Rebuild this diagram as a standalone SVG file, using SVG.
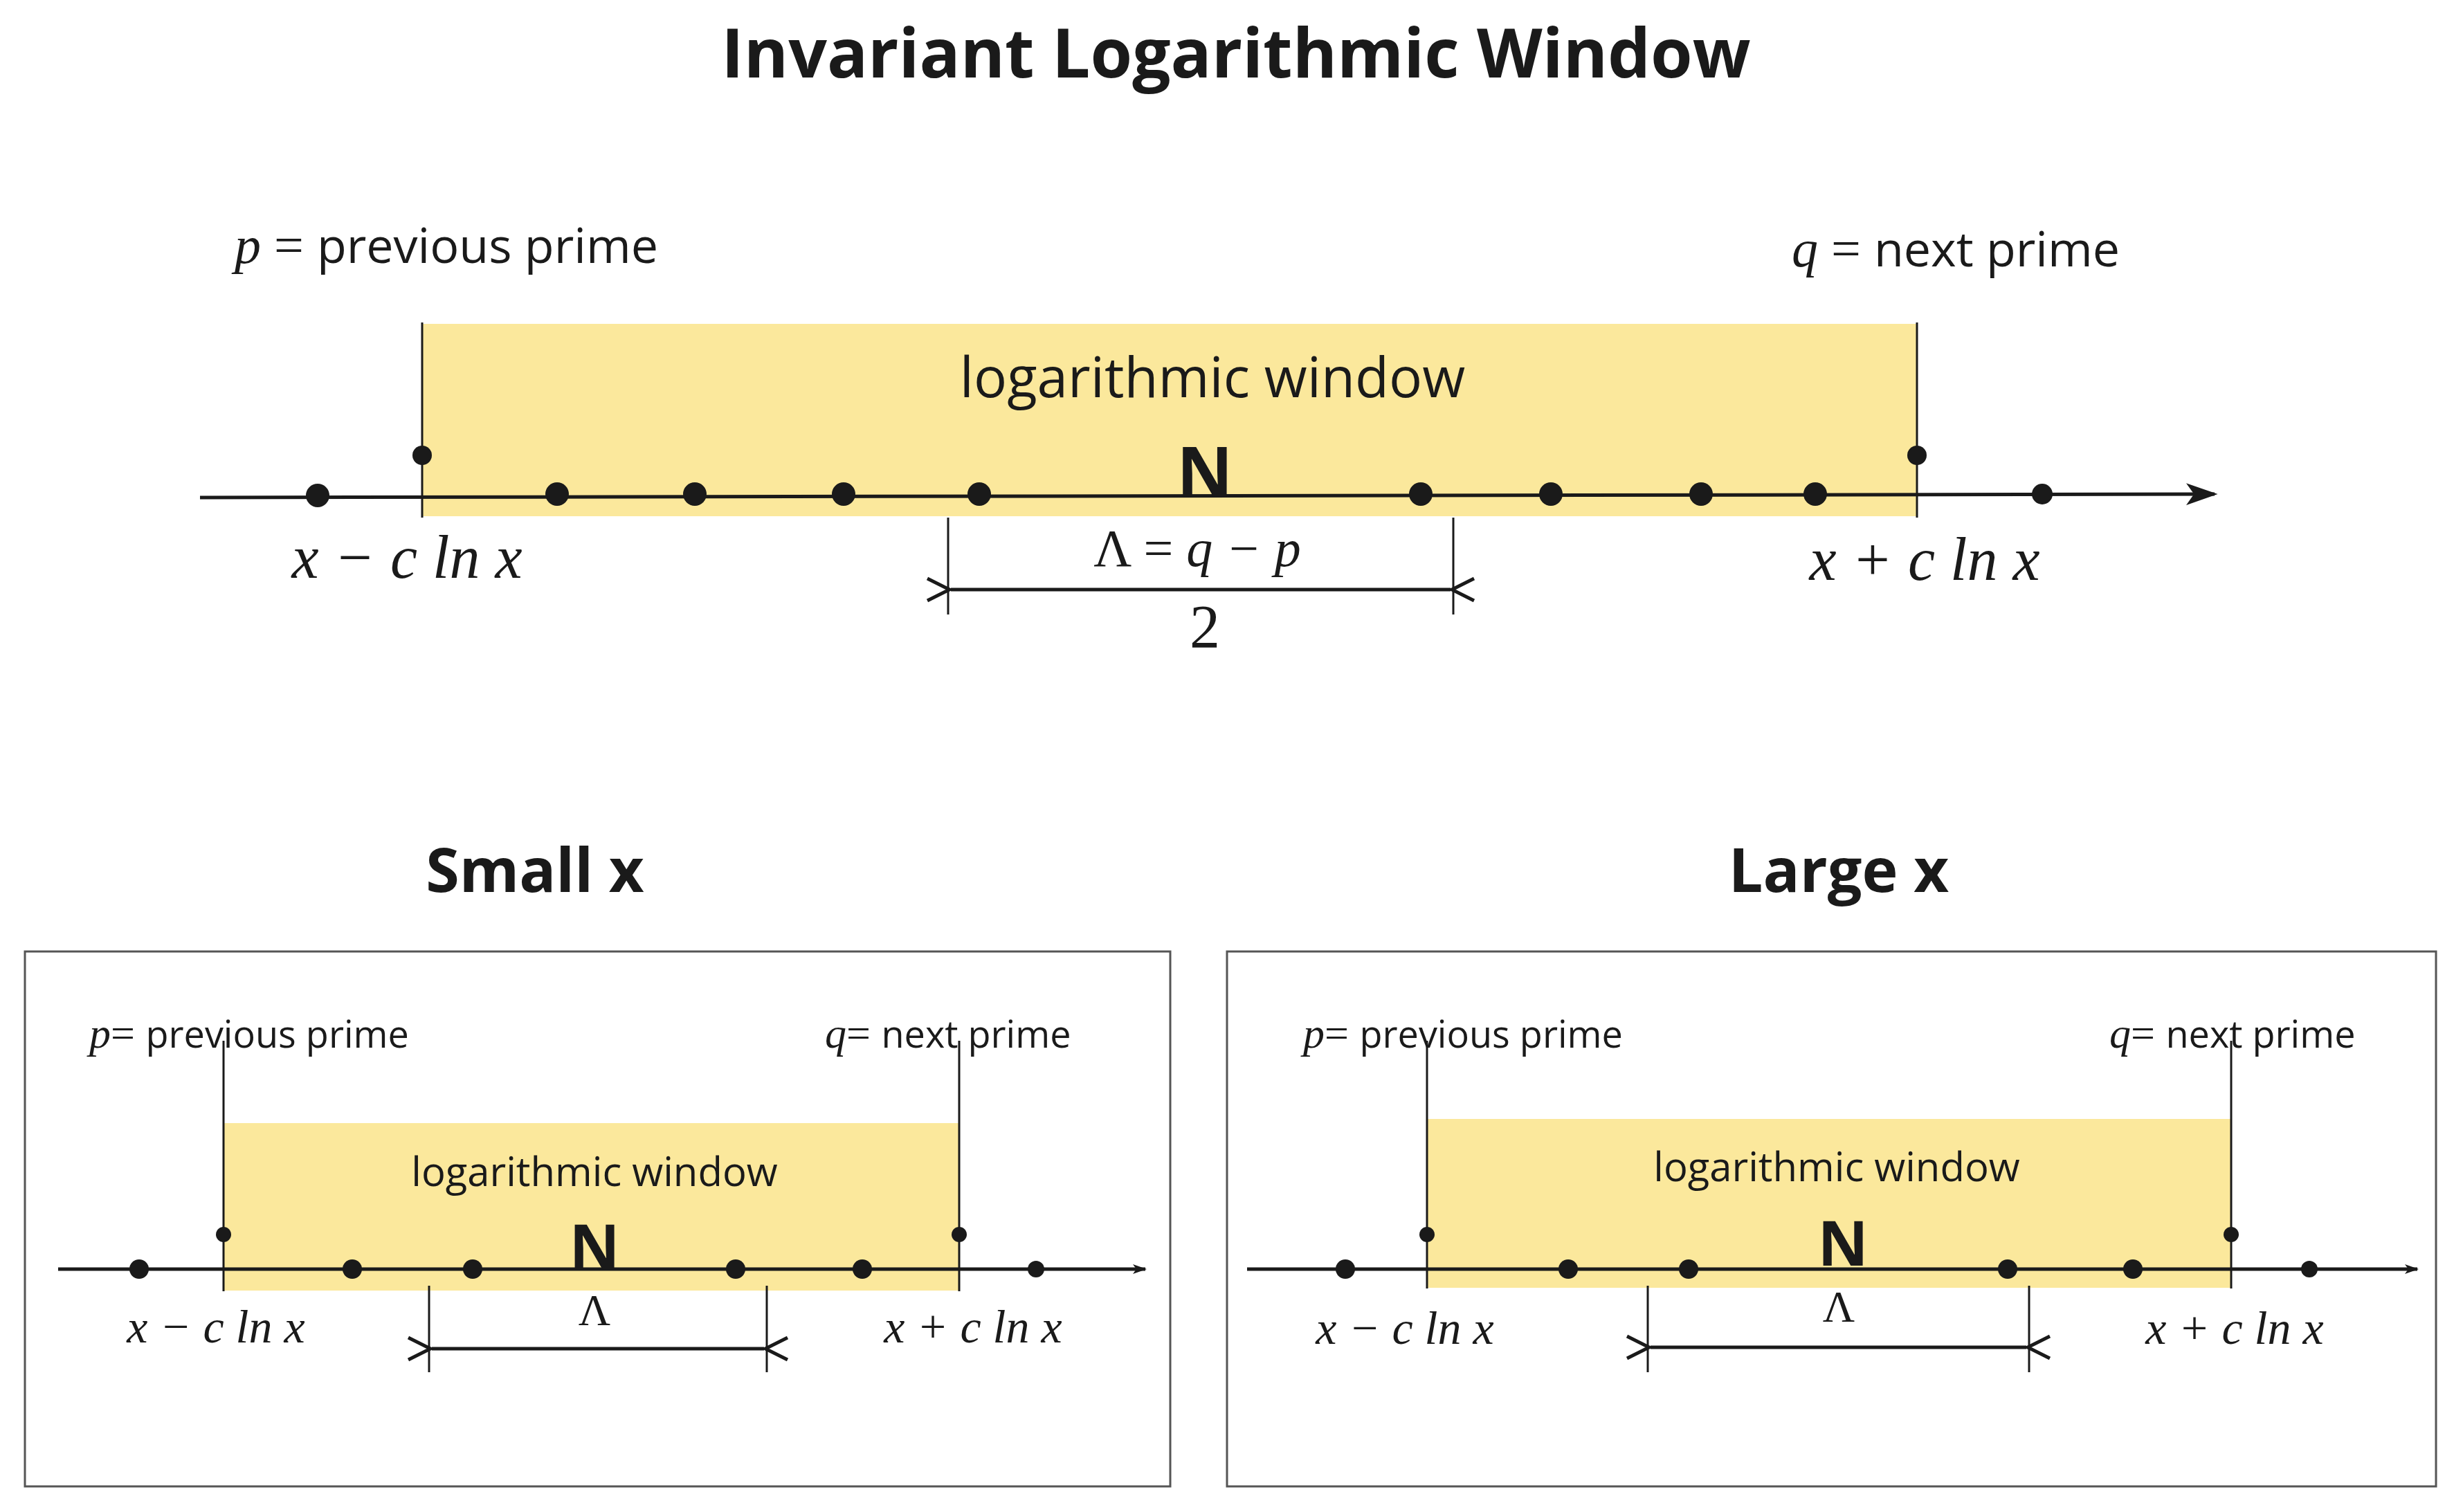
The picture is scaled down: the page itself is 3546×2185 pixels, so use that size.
<svg xmlns="http://www.w3.org/2000/svg" width="3546" height="2185" viewBox="0 0 3546 2185">
<defs>
<marker id="ah" viewBox="0 0 20 14" refX="18" refY="7" markerWidth="20" markerHeight="14" markerUnits="userSpaceOnUse" orient="auto-start-reverse"><path d="M0,0 L20,7 L0,14 L5,7 Z" fill="#1a1a1a"/></marker>
<marker id="ahb" viewBox="0 0 20 14" refX="18" refY="7" markerWidth="46" markerHeight="32" markerUnits="userSpaceOnUse" orient="auto-start-reverse"><path d="M0,0 L20,7 L0,14 L5,7 Z" fill="#1a1a1a"/></marker>
<marker id="dim" viewBox="0 0 20 20" refX="1" refY="10" markerWidth="40" markerHeight="40" markerUnits="userSpaceOnUse" orient="auto-start-reverse"><path d="M18,2 L2,10 L18,18" fill="none" stroke="#1a1a1a" stroke-width="2.5"/></marker>
</defs>
<style>
.win{fill:#fbe89c}
.ln{stroke:#1a1a1a;stroke-width:5;fill:none}
.thin{stroke:#1a1a1a;stroke-width:3;fill:none}
.dot{fill:#1a1a1a}
.sans{font-family:"Open Sans","Liberation Sans",sans-serif;fill:#1a1a1a}
.math{font-family:"Liberation Serif",serif;font-style:italic;fill:#1a1a1a}
.serif{font-family:"Liberation Serif",serif;fill:#1a1a1a}
.b{font-weight:bold}
.box{fill:#fff;stroke:#555;stroke-width:3}
</style>
<rect width="3546" height="2185" fill="#fff"/>
<text class="sans b" x="1786" y="112" font-size="98" text-anchor="middle">Invariant Logarithmic Window</text>

<g id="top">
<rect class="win" x="610" y="468" width="2160" height="278"/>
<line class="thin" x1="610" y1="466" x2="610" y2="748"/>
<line class="thin" x1="2770" y1="466" x2="2770" y2="748"/>
<line class="ln" x1="289" y1="719" x2="3200" y2="714" marker-end="url(#ahb)"/>
<g class="dot"><circle cx="459" cy="716" r="17"/><circle cx="805" cy="714" r="17"/><circle cx="1004" cy="714" r="17"/><circle cx="1219" cy="714" r="17"/><circle cx="1415" cy="714" r="17"/><circle cx="2053" cy="714" r="17"/><circle cx="2241" cy="714" r="17"/><circle cx="2458" cy="714" r="17"/><circle cx="2623" cy="714" r="17"/><circle cx="2951" cy="714" r="15"/><circle cx="610" cy="658" r="14"/><circle cx="2770" cy="658" r="14"/></g>
<text x="339" y="380" font-size="76"><tspan class="math">p</tspan><tspan class="serif"> = </tspan><tspan class="sans" font-size="70">previous prime</tspan></text>
<text x="2589" y="385" font-size="76"><tspan class="math">q</tspan><tspan class="serif"> = </tspan><tspan class="sans" font-size="70">next prime</tspan></text>
<text class="sans" x="1752" y="574" font-size="80" text-anchor="middle">logarithmic window</text>
<text class="sans b" x="1741" y="718" font-size="100" text-anchor="middle">N</text>
<text class="math" x="588" y="835" font-size="88" text-anchor="middle">x − c ln x</text>
<text class="math" x="2781" y="838" font-size="88" text-anchor="middle">x + c ln x</text>
<text x="1730" y="818" font-size="76" text-anchor="middle"><tspan class="serif">Λ = </tspan><tspan class="math">q − p</tspan></text>
<text class="serif" x="1741" y="935" font-size="88" text-anchor="middle">2</text>
<line class="thin" x1="1370" y1="748" x2="1370" y2="888"/>
<line class="thin" x1="2100" y1="748" x2="2100" y2="888"/>
<line class="ln" x1="1374" y1="852" x2="2096" y2="852" marker-start="url(#dim)" marker-end="url(#dim)"/>
</g>

<text class="sans b" x="773" y="1289" font-size="88" text-anchor="middle">Small x</text>
<text class="sans b" x="2657" y="1289" font-size="88" text-anchor="middle">Large x</text>

<g id="small">
<rect class="box" x="36" y="1375" width="1655" height="773"/>
<rect class="win" x="323" y="1623" width="1063" height="242"/>
<line class="thin" x1="323" y1="1504" x2="323" y2="1866"/>
<line class="thin" x1="1386" y1="1504" x2="1386" y2="1866"/>
<line class="ln" x1="84" y1="1834" x2="1655" y2="1834" marker-end="url(#ah)"/>
<g class="dot"><circle cx="201" cy="1834" r="14"/><circle cx="509" cy="1834" r="14"/><circle cx="683" cy="1834" r="14"/><circle cx="1063" cy="1834" r="14"/><circle cx="1246" cy="1834" r="14"/><circle cx="1497" cy="1834" r="12"/><circle cx="323" cy="1784" r="11"/><circle cx="1386" cy="1784" r="11"/></g>
<text x="129" y="1514" font-size="62"><tspan class="math">p</tspan><tspan class="serif">= </tspan><tspan class="sans" font-size="54">previous prime</tspan></text>
<text x="1192" y="1514" font-size="62"><tspan class="math">q</tspan><tspan class="serif">= </tspan><tspan class="sans" font-size="54">next prime</tspan></text>
<text class="sans" x="859" y="1714" font-size="58" text-anchor="middle">logarithmic window</text>
<text class="sans b" x="859" y="1834" font-size="90" text-anchor="middle">N</text>
<text class="math" x="312" y="1940" font-size="68" text-anchor="middle">x − c ln x</text>
<text class="math" x="1406" y="1940" font-size="68" text-anchor="middle">x + c ln x</text>
<text class="serif" x="859" y="1915" font-size="64" text-anchor="middle">Λ</text>
<line class="thin" x1="620" y1="1858" x2="620" y2="1983"/>
<line class="thin" x1="1108" y1="1858" x2="1108" y2="1983"/>
<line class="ln" x1="624" y1="1949" x2="1104" y2="1949" marker-start="url(#dim)" marker-end="url(#dim)"/>
</g>

<g id="large">
<rect class="box" x="1773" y="1375" width="1747" height="773"/>
<rect class="win" x="2062" y="1617" width="1162" height="244"/>
<line class="thin" x1="2062" y1="1504" x2="2062" y2="1862"/>
<line class="thin" x1="3224" y1="1504" x2="3224" y2="1862"/>
<line class="ln" x1="1802" y1="1834" x2="3493" y2="1834" marker-end="url(#ah)"/>
<g class="dot"><circle cx="1944" cy="1834" r="14"/><circle cx="2266" cy="1834" r="14"/><circle cx="2440" cy="1834" r="14"/><circle cx="2901" cy="1834" r="14"/><circle cx="3082" cy="1834" r="14"/><circle cx="3337" cy="1834" r="12"/><circle cx="2062" cy="1784" r="11"/><circle cx="3224" cy="1784" r="11"/></g>
<text x="1883" y="1514" font-size="62"><tspan class="math">p</tspan><tspan class="serif">= </tspan><tspan class="sans" font-size="54">previous prime</tspan></text>
<text x="3048" y="1514" font-size="62"><tspan class="math">q</tspan><tspan class="serif">= </tspan><tspan class="sans" font-size="54">next prime</tspan></text>
<text class="sans" x="2654" y="1707" font-size="58" text-anchor="middle">logarithmic window</text>
<text class="sans b" x="2663" y="1829" font-size="90" text-anchor="middle">N</text>
<text class="math" x="2030" y="1942" font-size="68" text-anchor="middle">x − c ln x</text>
<text class="math" x="3229" y="1942" font-size="68" text-anchor="middle">x + c ln x</text>
<text class="serif" x="2657" y="1910" font-size="64" text-anchor="middle">Λ</text>
<line class="thin" x1="2381" y1="1858" x2="2381" y2="1983"/>
<line class="thin" x1="2932" y1="1858" x2="2932" y2="1983"/>
<line class="ln" x1="2385" y1="1947" x2="2928" y2="1947" marker-start="url(#dim)" marker-end="url(#dim)"/>
</g>
</svg>
